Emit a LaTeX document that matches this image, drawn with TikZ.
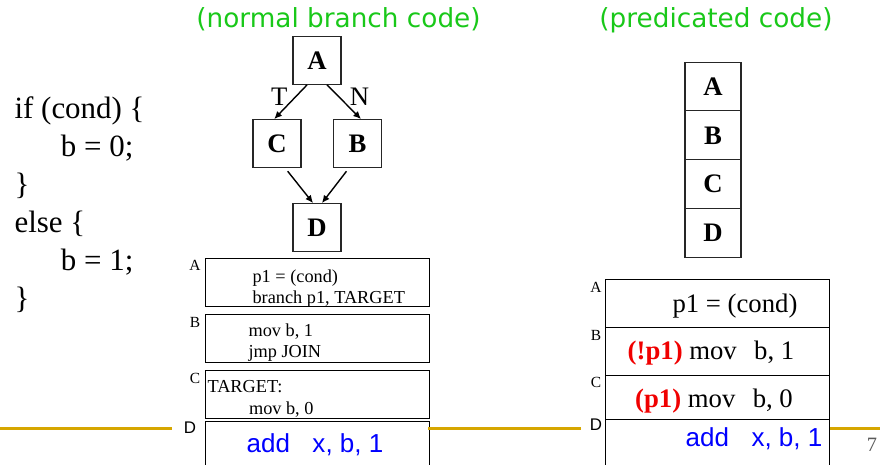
\documentclass[tikz,border=0pt]{standalone}
\usepackage{fontspec}
\setmainfont{Liberation Serif}
\setsansfont{Liberation Sans}
\newfontfamily\titlefont{DejaVu Sans}
\usetikzlibrary{arrows.meta, positioning}

\definecolor{titlegreen}{RGB}{25,200,25}
\definecolor{rulegold}{RGB}{214,166,0}
\definecolor{predred}{RGB}{240,0,0}
\definecolor{pagegray}{RGB}{90,90,90}

\begin{document}
\begin{tikzpicture}[x=0.025cm, y=-0.025cm, node distance=0pt, thick]
        % Define block styles
        \tikzstyle{block} = [rectangle, draw=black!85, line width=0.8pt, outer sep=0pt, inner sep=0pt, minimum width=1.2cm, minimum height=1.22cm, font=\fontsize{19}{19}\selectfont\bfseries]
        \tikzstyle{stackblock} = [block, minimum width=1.4cm]
        \tikzstyle{codebox} = [rectangle, draw=black, line width=0.7pt, outer sep=0pt, inner sep=0pt, anchor=north west, minimum width=5.6cm, minimum height=1.2cm]
        \tikzstyle{tag} = [inner sep=0pt, font=\fontsize{11}{11}\selectfont]
        \tikzstyle{sftag} = [inner sep=0pt, font=\sffamily\fontsize{12}{12}\selectfont]
        \tikzstyle{smallcode} = [inner sep=0pt, anchor=base west, align=left, font=\fontsize{13}{14.5}\selectfont]
        \tikzstyle{bigcode} = [inner sep=0pt, anchor=base, font=\fontsize{19}{19}\selectfont]
        \tikzstyle{addcode} = [inner sep=0pt, anchor=base, text=blue, font=\sffamily\fontsize{18.5}{18.5}\selectfont]
        \tikzstyle{title} = [inner sep=0pt, anchor=base, text=titlegreen, font=\titlefont\fontsize{18.7}{18.7}\selectfont]
        \tikzstyle{edgelabel} = [inner sep=0pt, font=\fontsize{19}{19}\selectfont]
        \tikzstyle{line} = [draw, line width=1pt, -{Latex[length=5.5pt, width=5pt]}]
        \tikzstyle{rule} = [draw=rulegold, line width=1.6pt]

        \useasboundingbox (0,0) rectangle (880,465);
        \clip (0,0) rectangle (880,465);

        % Titles and source
        \node [title] (titleL) at (338.5,28) {(normal branch code)};
        \node [title] (titleR) at (716,28) {(predicated code)};
        \node [anchor=base west, align=left, inner sep=0pt, font=\fontsize{22}{27}\selectfont] (src) at (14,308)
                {if (cond) \{\\\hspace*{33pt}b = 0;\\\}\\else \{\\\hspace*{33pt}b = 1;\\\}};

        % Control flow graph
        \node [block] (A) at (317,60.5) {A};
        \node [block] (C) at (277,143.5) {C};
        \node [block] (B) at (357.5,143.5) {B};
        \node [block] (D) at (317,227.5) {D};

        \draw[line] ([xshift=-7.1pt]A.south) -- node[edgelabel, pos=0.36, left=5pt] {T} ([xshift=-2pt]C.north);
        \draw[line] ([xshift=7.1pt]A.south) -- node[edgelabel, pos=0.36, right=7pt] {N} ([xshift=2.5pt]B.north);
        \draw[line, shorten <=3pt] ([xshift=5.7pt]C.south) -- ([xshift=-2.8pt]D.north);
        \draw[line, shorten <=3pt] ([xshift=-6pt]B.south) -- ([xshift=3.5pt]D.north);

        % Branch code
        \node [codebox] (cA) at (205,258) {};
        \node [codebox, below=0.2cm of cA] (cB) {};
        \node [codebox, below=0.2cm of cB] (cC) {};
        \node [codebox, below=0.075cm of cC, minimum height=2cm] (cD) {};

        \node [tag] (lA) at (195,265) {A};
        \node [tag] (lB) at (195,322) {B};
        \node [tag] (lC) at (195,378) {C};
        \node [sftag] (lD) at (190,428) {D};

        \node [smallcode] (tA) at (252,303) {p1 = (cond)\\branch p1, TARGET};
        \node [smallcode] (tB) at (248,357) {mov b, 1\\jmp JOIN};
        \node [smallcode, font=\fontsize{13}{15.5}\selectfont] (tC) at (207,414) {TARGET:\\\hspace*{29.5pt}mov b, 0};
        \node [addcode] (tD) at (315,452) {add\hspace{16pt}x, b, 1};

        % Predicated blocks
        \node [stackblock] (pA) at (713,86.5) {A};
        \node [stackblock, below=of pA] (pB) {B};
        \node [stackblock, below=of pB] (pC) {C};
        \node [stackblock, below=of pC] (pD) {D};

        % Predicated code
        \node [codebox] (rA) at (605,279) {};
        \node [codebox, below=of rA] (rB) {};
        \node [codebox, below=of rB, minimum height=1.1cm] (rC) {};
        \node [codebox, below=of rC, minimum height=2cm] (rD) {};

        \node [tag] (mA) at (596,287) {A};
        \node [tag] (mB) at (596,335) {B};
        \node [tag] (mC) at (596,382) {C};
        \node [sftag] (mD) at (596,425) {D};

        \node [bigcode] (uA) at (735,312) {p1 = (cond)};
        \node [bigcode] (uB) at (711,359) {\textcolor{predred}{\textbf{(!p1)}} mov\hspace{0.65em}b, 1};
        \node [bigcode] (uC) at (714,407) {\textcolor{predred}{\textbf{(p1)}} mov\hspace{0.65em}b, 0};
        \node [addcode] (uD) at (754,446) {add\hspace{16pt}x, b, 1};

        % Footer
        \draw[rule] (0,428.5) -- (172,428.5);
        \draw[rule] (428,428.5) -- (581,428.5);
        \draw[rule] (830,428.5) -- (880,428.5);
        \node [inner sep=0pt, text=pagegray, font=\fontsize{14.5}{14.5}\selectfont] (page) at (872,445) {7};

    \end{tikzpicture}
\end{document}
